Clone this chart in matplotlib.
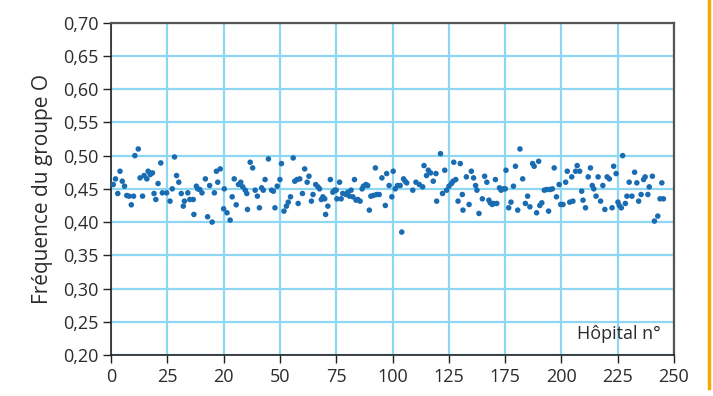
import matplotlib
matplotlib.use("Agg")
import matplotlib.pyplot as plt
from matplotlib.lines import Line2D

hopital = [1, 2, 3, 4, 5, 6, 7, 8, 9, 10, 10.6, 12.1, 12.9, 14, 14.7, 15.9, 16.5, 17.4, 18.4, 19.1,
           19.9, 20.9, 22.1, 22.8, 24.7, 26.2, 27.2, 28.2, 29.1, 30.1, 31.2, 32.1, 32.6, 34.1, 35, 36.5,
           36.8, 37.9, 38.5, 39.4, 40.4, 41.9, 42.9, 43.8, 44.9, 45.9, 46.8, 47.4, 48.5, 50.3, 50, 51.5,
           52.9, 53.8, 54.7, 55.6, 56.6, 57.6, 58.5, 59.6, 60.3, 60.6, 61.8, 62.9, 64, 65, 65.9, 66.9,
           67.6, 68.4, 69.9, 71.3, 72.1, 72.8, 73.8, 75, 75.7, 76.8, 77.9, 78.7, 79.7, 80.9, 81.6, 82.6,
           83.1, 83.8, 85, 86, 87.1, 87.9, 89, 89.7, 90.9, 91.9, 92.6, 93.4, 94.1, 94.9, 95.3, 96.3,
           97.4, 98.5, 99.3, 100, 100.3, 101.5, 102.2, 102.9, 104.4, 105.1, 105.9, 106.6, 107.4, 108.1,
           108.8, 109.6, 110.6, 111.5, 112.1, 113.2, 114, 114.7, 115.4, 116.5, 117.4, 117.9, 119.1,
           120.3, 121.8, 122.4, 123.5, 124.7, 125.3, 126.2, 127.2,
           128.4, 129.1, 129.9, 130.6, 131.3, 134, 135.4, 136.9, 138.4, 139, 140.1, 140.9, 141.9, 143.1,
           144.3, 144.6, 146.3, 147.2, 148.2, 149, 150.1, 151.2, 151.9, 152.2, 153.1, 154.1, 155.1, 156,
           156.3, 157.8, 159, 160, 161, 161.9, 162.5, 163.4, 164.9, 165.9, 166.9, 167.8, 168.4, 169.3,
           169.9, 170.7, 171.3, 172.5, 173.2, 174.3, 175.1, 175.4, 176.6, 177.6, 178.7, 179.6, 180.6,
           181.6, 182.8, 184, 185, 186, 187.2, 187.9, 189, 189.9, 190.4, 191.3, 192.4, 193.4, 194.3,
           194.9, 196, 196.8, 197.8, 199, 199.7, 200.7, 201.9, 202.6, 203.7, 204.6, 205.1, 206.3, 207,
           208.1, 209, 209.6, 210.7, 211.9, 212.9, 213.7, 214.4, 215.4, 216.3, 217.4, 218.4, 219.3,
           220.3, 221.3, 222.5, 223.2, 224.3, 225.1, 225.7, 226.6, 227.2, 228.4, 229.1, 230.1, 231.3,
           232.5, 233.5, 234.3, 235.4, 236.5, 237.2, 238.4, 239, 240.4, 241.3, 242.8, 243.8, 244.6, 245.3]

frequence = [0.4565, 0.465, 0.443, 0.4765, 0.4615, 0.454, 0.44, 0.439, 0.426, 0.439, 0.50, 0.51, 0.4665,
             0.439, 0.47, 0.465, 0.4765, 0.4715, 0.474, 0.443, 0.434, 0.458, 0.489, 0.444, 0.444, 0.4315,
             0.45, 0.498, 0.47, 0.46, 0.443, 0.424, 0.4315, 0.444, 0.434, 0.434, 0.4115, 0.454, 0.45,
             0.449, 0.444, 0.465, 0.408, 0.455, 0.40, 0.444, 0.4765, 0.46, 0.48, 0.45, 0.42, 0.414, 0.403,
             0.438, 0.465, 0.426, 0.4565, 0.46, 0.453, 0.448, 0.443, 0.419, 0.49, 0.4815, 0.448, 0.439,
             0.4215, 0.4515, 0.448, 0.464, 0.495, 0.448, 0.4465, 0.4215, 0.454, 0.464, 0.488, 0.4165,
             0.424, 0.43, 0.438, 0.4965, 0.4615, 0.464, 0.428, 0.465, 0.443, 0.48, 0.46, 0.469, 0.4315,
             0.4415, 0.4565, 0.453, 0.45, 0.434, 0.438, 0.435, 0.4115, 0.424, 0.464, 0.445, 0.448, 0.448,
             0.435, 0.46, 0.435, 0.443, 0.4415, 0.445, 0.439, 0.448, 0.438, 0.464, 0.433, 0.434, 0.4315,
             0.45, 0.454, 0.4565, 0.455, 0.418, 0.439, 0.44, 0.4815, 0.4415, 0.4415, 0.4665, 0.425, 0.473,
             0.455, 0.438, 0.4765, 0.45, 0.455,
             0.455, 0.385, 0.465, 0.4615, 0.459, 0.448, 0.46, 0.4565, 0.453, 0.485, 0.47, 0.478, 0.474,
             0.4615, 0.473, 0.4315, 0.503, 0.443, 0.478, 0.448, 0.454, 0.458, 0.4615, 0.49, 0.464, 0.4315,
             0.488, 0.4415, 0.418, 0.468, 0.4265, 0.4765, 0.4665, 0.455, 0.448, 0.413, 0.435, 0.469, 0.46,
             0.433, 0.429, 0.4265, 0.428, 0.464, 0.428, 0.4515, 0.448, 0.45, 0.45, 0.478, 0.4215, 0.43,
             0.454, 0.484, 0.418, 0.51, 0.465, 0.428, 0.439, 0.423, 0.488, 0.484, 0.414, 0.4915, 0.425,
             0.429, 0.448, 0.449, 0.4165, 0.449, 0.45, 0.4815, 0.438, 0.4565, 0.4265, 0.4265, 0.46, 0.4765,
             0.43, 0.468, 0.4315, 0.4765, 0.485, 0.4765, 0.4465, 0.433, 0.4215, 0.468, 0.4815, 0.455, 0.45,
             0.439, 0.468, 0.4315, 0.455, 0.419, 0.468, 0.465, 0.4215, 0.484, 0.473, 0.43, 0.425, 0.4215,
             0.50, 0.428, 0.439, 0.46, 0.439, 0.475, 0.459, 0.4315, 0.4415, 0.464, 0.468, 0.4415, 0.453,
             0.469, 0.4015, 0.409, 0.435, 0.459, 0.435]

xtick_pos = [0, 25, 50, 75, 100, 125, 150, 175, 200, 225, 250]
xtick_labels = ["0", "25", "20", "50", "75", "100", "125", "175", "200", "225", "250"]
ytick_pos = [0.20, 0.25, 0.30, 0.35, 0.40, 0.45, 0.50, 0.55, 0.60, 0.65, 0.70]
ytick_labels = ["0,20", "0,25", "0,30", "0,35", "0,40", "0,45", "0,50", "0,55", "0,60", "0,65", "0,70"]

plt.rcParams['font.family'] = ['Open Sans', 'DejaVu Sans']

fig = plt.figure(figsize=(7.13, 3.96), dpi=100)
ax = fig.add_axes([0.1557, 0.1035, 0.7896, 0.8392])

ax.scatter(hopital, frequence, s=16, color='#1a6cb2', edgecolors='none', zorder=3)

ax.set_xlim(0, 250)
ax.set_ylim(0.20, 0.70)
ax.set_xticks(xtick_pos)
ax.set_xticklabels(xtick_labels)
ax.set_yticks(ytick_pos)
ax.set_yticklabels(ytick_labels)
ax.grid(True, color='#8fd6f2', linewidth=1.6, zorder=0)
ax.set_axisbelow(True)

for side in ['left', 'bottom']:
    ax.spines[side].set_color('#222222')
    ax.spines[side].set_linewidth(1.2)
for side in ['top', 'right']:
    ax.spines[side].set_color('#555555')
    ax.spines[side].set_linewidth(1.6)

ax.tick_params(axis='both', direction='out', length=6, width=1.0, color='#222222',
               labelsize=13, labelcolor='#2b2b2b', pad=3)

ax.set_ylabel('Fréquence du groupe O', fontsize=15, color='#2b2b2b', labelpad=7)
ax.text(244, 0.231, 'Hôpital n°', ha='right', va='center', fontsize=13, color='#2b2b2b', zorder=4)

fig.add_artist(Line2D([0.995, 0.995], [0.02, 1], transform=fig.transFigure,
                      color='#f5a800', linewidth=2.5))

fig.savefig('out.png', dpi=100)
